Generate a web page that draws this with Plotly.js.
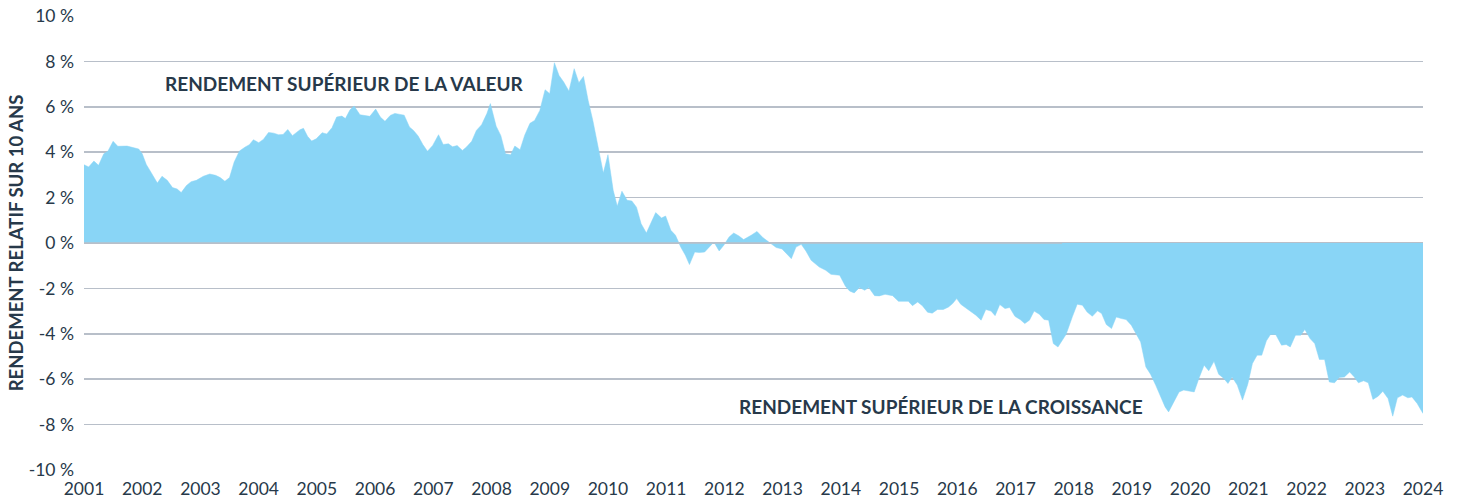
<!DOCTYPE html>
<html>
<head>
<meta charset="utf-8">
<script src="https://cdn.plot.ly/plotly-3.0.1.min.js"></script>
<style>
html,body{margin:0;padding:0;background:#fff;}
#chart{width:1460px;height:500px;}
</style>
</head>
<body>
<div id="chart"></div>
<script>
// Dates as decimal years
const years = [
2001.00,2001.08,2001.17,2001.25,2001.34,2001.41,2001.50,2001.58,2001.74,2001.85,2001.94,
2002.00,2002.07,2002.15,2002.26,2002.34,2002.43,2002.52,2002.60,2002.67,2002.76,2002.84,2002.93,
2003.05,2003.16,2003.26,2003.34,2003.42,2003.50,2003.58,2003.67,2003.77,2003.84,2003.91,
2004.00,2004.08,2004.17,2004.26,2004.34,2004.42,2004.50,2004.58,2004.71,2004.77,2004.84,2004.91,2004.99,
2005.09,2005.17,2005.26,2005.34,2005.43,2005.49,2005.57,2005.64,2005.74,2005.83,2005.91,
2006.01,2006.09,2006.17,2006.26,2006.34,2006.43,2006.50,2006.59,2006.66,2006.74,2006.82,2006.90,2006.99,
2007.09,2007.17,2007.26,2007.33,2007.41,2007.50,2007.57,2007.66,2007.74,2007.83,2007.92,2007.98,
2008.08,2008.16,2008.24,2008.33,2008.40,2008.49,2008.57,2008.66,2008.74,2008.83,2008.92,
2009.00,2009.08,2009.16,2009.24,2009.33,2009.42,2009.50,2009.58,2009.66,2009.74,2009.85,2009.92,
2010.00,2010.09,2010.16,2010.24,2010.33,2010.41,2010.49,2010.57,2010.66,2010.75,2010.82,2010.92,2010.99,
2011.08,2011.16,2011.25,2011.33,2011.40,2011.49,2011.57,2011.66,2011.75,2011.82,2011.91,2011.99,
2012.08,2012.16,2012.25,2012.33,2012.46,2012.56,2012.66,2012.78,2012.89,2012.99,
2013.15,2013.23,2013.32,2013.40,2013.49,2013.63,2013.74,2013.83,2013.98,
2014.08,2014.15,2014.23,2014.32,2014.41,2014.48,2014.58,2014.66,2014.76,2014.89,2014.99,
2015.09,2015.16,2015.23,2015.32,2015.40,2015.49,2015.57,2015.66,2015.76,2015.85,2015.92,2015.99,
2016.06,2016.14,2016.23,2016.32,2016.41,2016.49,2016.58,2016.65,2016.73,2016.82,2016.90,2016.99,
2017.08,2017.16,2017.24,2017.32,2017.41,2017.49,2017.57,2017.65,2017.73,2017.81,2017.87,2017.98,
2018.06,2018.15,2018.23,2018.32,2018.41,2018.48,2018.56,2018.65,2018.73,2018.82,2018.90,2018.99,
2019.06,2019.15,2019.24,2019.32,2019.41,2019.49,2019.57,2019.63,2019.72,2019.81,2019.89,2019.98,
2020.07,2020.15,2020.24,2020.32,2020.41,2020.49,2020.58,2020.65,2020.72,2020.81,2020.90,2020.99,
2021.07,2021.15,2021.23,2021.31,2021.38,2021.47,2021.57,2021.65,2021.72,2021.81,2021.90,2021.97,
2022.06,2022.14,2022.22,2022.31,2022.39,2022.48,2022.56,2022.65,2022.74,2022.82,2022.89,2022.98,
2023.06,2023.14,2023.23,2023.31,2023.40,2023.48,2023.56,2023.65,2023.74,2023.81,2023.90,2024.00
];
// 10-year relative return (value minus growth), %
const relReturn = [
3.45,3.35,3.61,3.42,3.93,4.04,4.48,4.26,4.27,4.21,4.14,
3.93,3.46,3.12,2.64,2.94,2.76,2.44,2.38,2.22,2.53,2.70,2.76,
2.94,3.04,2.98,2.88,2.72,2.88,3.57,4.05,4.23,4.33,4.55,
4.42,4.56,4.87,4.84,4.77,4.78,5.00,4.73,4.99,5.05,4.70,4.49,4.59,
4.86,4.80,5.08,5.55,5.59,5.48,5.87,6.03,5.65,5.61,5.58,
5.90,5.55,5.36,5.62,5.71,5.65,5.63,5.11,4.96,4.71,4.34,4.04,4.30,
4.77,4.34,4.37,4.24,4.29,4.08,4.23,4.48,4.96,5.21,5.70,6.14,
5.14,4.73,3.93,3.89,4.27,4.11,4.75,5.27,5.40,5.84,6.75,
6.58,7.94,7.38,7.09,6.69,7.68,7.06,7.34,6.28,5.40,3.93,3.08,
3.89,2.32,1.62,2.28,1.88,1.85,1.58,0.85,0.44,0.97,1.34,1.10,1.19,
0.56,0.34,-0.18,-0.54,-0.95,-0.40,-0.42,-0.40,-0.15,0.04,-0.35,-0.10,
0.26,0.44,0.31,0.15,0.34,0.51,0.24,0.00,-0.20,-0.26,
-0.69,-0.18,-0.06,-0.35,-0.76,-1.06,-1.20,-1.38,-1.42,
-1.91,-2.11,-2.20,-1.96,-2.08,-1.96,-2.32,-2.33,-2.26,-2.32,-2.57,
-2.58,-2.57,-2.76,-2.60,-2.76,-3.05,-3.09,-2.93,-2.93,-2.82,-2.67,-2.45,
-2.70,-2.84,-3.00,-3.18,-3.40,-2.93,-3.00,-3.20,-2.71,-2.89,-2.84,-3.23,
-3.37,-3.55,-3.40,-3.00,-3.14,-3.37,-3.40,-4.43,-4.58,-4.28,-4.02,-3.23,
-2.70,-2.74,-3.04,-3.23,-2.99,-3.11,-3.59,-3.77,-3.26,-3.33,-3.37,-3.62,
-3.96,-4.36,-5.46,-5.78,-6.27,-6.78,-7.22,-7.44,-7.00,-6.56,-6.48,-6.53,
-6.56,-5.97,-5.38,-5.63,-5.21,-5.78,-5.97,-6.19,-5.90,-6.26,-6.92,-6.22,
-5.31,-4.94,-4.94,-4.31,-4.03,-4.03,-4.50,-4.47,-4.58,-4.06,-4.06,-3.81,
-4.21,-4.43,-5.13,-5.13,-6.12,-6.16,-5.92,-5.90,-5.68,-5.90,-6.16,-6.07,
-6.16,-6.89,-6.75,-6.53,-6.85,-7.63,-6.82,-6.70,-6.82,-6.78,-7.07,-7.51
];
const xTickVals = [2001,2002,2003,2004,2005,2006,2007,2008,2009,2010,2011,2012,2013,2014,2015,2016,2017,2018,2019,2020,2021,2022,2023,2024];
const xTickText = xTickVals.map(String);
const yTickVals = [-10,-8,-6,-4,-2,0,2,4,6,8,10];
const yTickText = ["-10 %","-8 %","-6 %","-4 %","-2 %","0 %","2 %","4 %","6 %","8 %","10 %"];
const yTitle = "RENDEMENT RELATIF SUR 10 ANS";
const labelValue = "RENDEMENT SUPÉRIEUR DE LA VALEUR";
const labelGrowth = "RENDEMENT SUPÉRIEUR DE LA CROISSANCE";

const textColor = "#27394a";
const gridColor = "#b8bfc9";
const fillColor = "#89d5f6";

const trace = {
  x: years, y: relReturn, type: "scatter", mode: "lines",
  fill: "tozeroy", fillcolor: fillColor,
  line: {color: fillColor, width: 0.5, shape: "linear"},
  hoverinfo: "skip"
};

const layout = {
  width: 1460, height: 500,
  margin: {l: 84, r: 37, t: 16, b: 30, pad: 0},
  paper_bgcolor: "#ffffff", plot_bgcolor: "#ffffff",
  showlegend: false,
  font: {family: "Lato, 'Open Sans', sans-serif", color: textColor, size: 17},
  xaxis: {
    range: [2001, 2024], tickvals: xTickVals, ticktext: xTickText,
    showgrid: false, zeroline: false, showline: false, ticks: "",
    tickfont: {size: 17.5, color: textColor}, ticklabelstandoff: 6
  },
  yaxis: {
    range: [-10, 10], tickvals: yTickVals, ticktext: yTickText,
    showgrid: true, gridcolor: gridColor, gridwidth: 1.5,
    zeroline: false, showline: false, ticks: "",
    tickfont: {size: 17.5, color: textColor}, ticklabelstandoff: 9,
    title: {text: yTitle, font: {size: 18.5, color: textColor, family: "Lato, sans-serif", weight: 700}, standoff: 0}
  },
  shapes: [
    {type: "line", xref: "x", yref: "y", x0: 2001, x1: 2017.8, y0: 0, y1: 0, layer: "above",
     line: {color: gridColor, width: 1.5}}
  ],
  annotations: [
    {text: "<b>" + labelValue + "</b>", xref: "x", yref: "y", x: 2002.36, y: 7.03,
     xanchor: "left", yanchor: "middle", showarrow: false, font: {size: 19, color: textColor}},
    {text: "<b>" + labelGrowth + "</b>", xref: "x", yref: "y", x: 2012.21, y: -7.19,
     xanchor: "left", yanchor: "middle", showarrow: false, font: {size: 19, color: textColor}}
  ]
};

Plotly.newPlot("chart", [trace], layout, {displayModeBar: false, staticPlot: true});
</script>
</body>
</html>
